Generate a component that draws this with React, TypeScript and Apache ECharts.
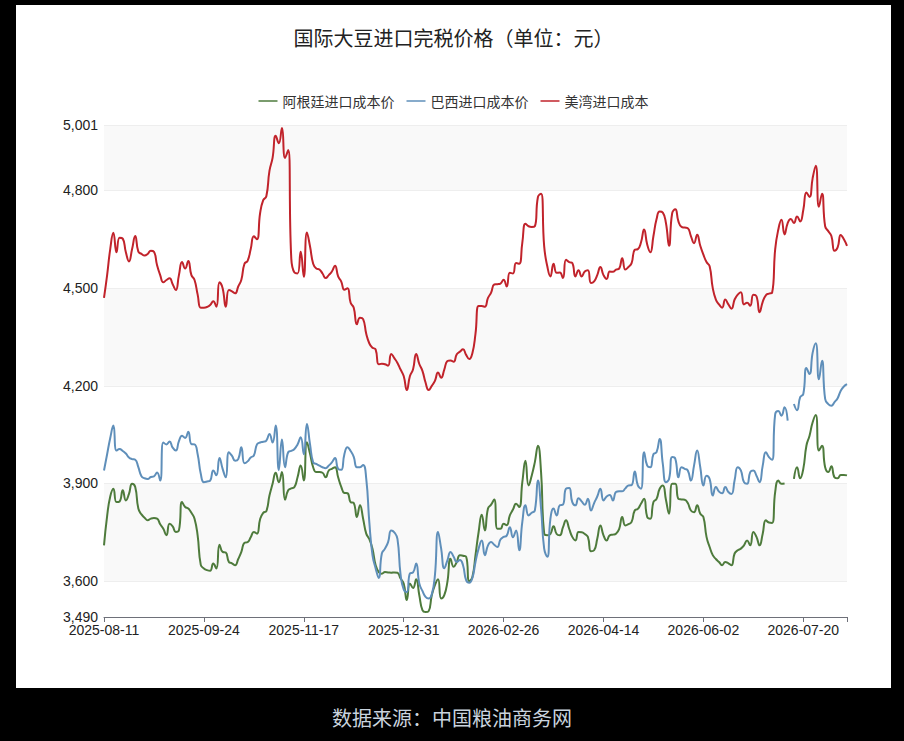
import React, { useEffect, useRef } from 'react';
import * as echarts from 'echarts';

// trading days from 2025-08-11, weekends and market holidays skipped
const startDate = '2025-08-11';
const endDate = '2026-08-07';
const holidays = [
  '2025-10-01', '2025-10-02', '2025-10-03', '2025-10-06', '2025-10-07', '2025-10-08',
  '2026-01-01', '2026-01-02',
  '2026-02-16', '2026-02-17', '2026-02-18', '2026-02-19', '2026-02-20', '2026-02-23', '2026-02-24',
  '2026-04-06',
  '2026-05-01', '2026-05-04', '2026-05-05',
  '2026-06-19', '2026-07-01',
];

function tradingDays(start: string, end: string, skip: string[]): string[] {
  const out: string[] = [];
  const d = new Date(start + 'T00:00:00Z');
  const last = new Date(end + 'T00:00:00Z');
  while (d <= last) {
    const day = d.getUTCDay();
    const s = d.toISOString().slice(0, 10);
    if (day !== 0 && day !== 6 && !skip.includes(s)) out.push(s);
    d.setUTCDate(d.getUTCDate() + 1);
  }
  return out;
}

const dates = tradingDays(startDate, endDate, holidays);

const seriesNames = ['阿根廷进口成本价', '巴西进口成本价', '美湾进口成本'];
const seriesColors = ['#4e7b3c', '#5f8fba', '#c1232b'];

const argentina = [
  3710, 3800, 3860, 3884, 3843, 3845, 3879, 3848, 3868, 3899,
  3889, 3823, 3805, 3795, 3787, 3792, 3794, 3792, 3775, 3761,
  3741, 3776, 3768, 3751, 3756, 3843, 3828, 3823, 3810, 3792,
  3740, 3650, 3639, 3634, 3632, 3654, 3639, 3712, 3690, 3688,
  3659, 3655, 3649, 3668, 3690, 3718, 3720, 3735, 3751, 3746,
  3790, 3810, 3815, 3863, 3899, 3933, 3904, 3935, 3850, 3879,
  3885, 3889, 3919, 3955, 3909, 4027, 3991, 3950, 3935, 3935,
  3933, 3919, 3940, 3945, 3950, 3919, 3890, 3871, 3870, 3843,
  3840, 3797, 3833, 3792, 3746, 3729, 3700, 3650, 3628, 3623,
  3628, 3627, 3626, 3627, 3626, 3608, 3593, 3542, 3593, 3579,
  3606, 3557, 3511, 3505, 3508, 3557, 3588, 3606, 3547, 3557,
  3598, 3669, 3644, 3659, 3680, 3678, 3675, 3600, 3613, 3680,
  3751, 3804, 3756, 3823, 3835, 3851, 3761, 3761, 3776, 3772,
  3802, 3820, 3838, 3828, 3904, 3970, 3894, 3924, 3965, 4016,
  3935, 3746, 3741, 3745, 3769, 3745, 3741, 3765, 3787, 3761,
  3736, 3725, 3751, 3750, 3745, 3736, 3692, 3695, 3730, 3771,
  3741, 3725, 3741, 3743, 3746, 3760, 3797, 3771, 3775, 3782,
  3817, 3822, 3838, 3853, 3797, 3792, 3843, 3853, 3884, 3894,
  3850, 3807, 3899, 3899, 3853, 3851, 3850, 3840, 3817, 3812,
  3833, 3807, 3797, 3736, 3705, 3680, 3668, 3659, 3649, 3659,
  3655, 3649, 3685, 3695, 3700, 3710, 3725, 3710, 3751, 3736,
  3710, 3746, 3787, 3780, 3779, 3874, 3909, 3899, 3900, null,
  null, 3914, 3950, 3916, 3945, 4016, 4047, 4088, 4110, 4001,
  4016, 3950, 3935, 3953, 3919, 3916, 3926, 3926, 3925,
];

const brazil = [
  3940, 3990, 4040, 4078, 4001, 4006, 4000, 3992, 3980, 3975,
  3973, 3950, 3922, 3916, 3914, 3920, 3922, 3934, 3909, 4026,
  4020, 4029, 4010, 4001, 4030, 4047, 4040, 4059, 4021, 4020,
  3990, 3930, 3904, 3906, 3909, 3940, 3925, 3978, 3945, 3919,
  3996, 3985, 3970, 3975, 4011, 3962, 3968, 3980, 3986, 4020,
  4026, 4028, 4032, 4052, 4026, 4078, 3941, 4035, 3950, 3996,
  4000, 4006, 4020, 4042, 3990, 4083, 4020, 3965, 3960, 3955,
  3950, 3947, 3955, 3965, 3978, 3945, 3942, 3990, 4011, 4000,
  3982, 3950, 3950, 3957, 3915, 3780, 3680, 3640, 3610, 3685,
  3700, 3720, 3756, 3750, 3730, 3620, 3575, 3567, 3624, 3627,
  3654, 3593, 3570, 3552, 3547, 3560, 3618, 3751, 3700, 3640,
  3664, 3690, 3675, 3659, 3665, 3649, 3603, 3595, 3610, 3659,
  3700, 3725, 3680, 3710, 3720, 3712, 3705, 3728, 3736, 3740,
  3766, 3735, 3756, 3695, 3782, 3833, 3802, 3810, 3817, 3909,
  3823, 3700, 3675, 3792, 3823, 3802, 3833, 3835, 3884, 3886,
  3843, 3833, 3855, 3845, 3835, 3853, 3817, 3840, 3860, 3884,
  3848, 3860, 3865, 3848, 3874, 3876, 3876, 3885, 3894, 3895,
  3937, 3894, 3884, 3996, 3955, 3950, 3990, 3996, 4037, 3960,
  3904, 3914, 3981, 3976, 3919, 3950, 3945, 3940, 3909, 3955,
  4001, 3950, 3894, 3924, 3914, 3863, 3889, 3875, 3870, 3889,
  3874, 3868, 3910, 3950, 3940, 3904, 3899, 3935, 3940, 3924,
  3904, 3955, 3996, 3981, 3973, 4113, 4123, 4108, 4134, 4093,
  null, 4144, 4125, 4165, 4175, 4255, 4236, 4302, 4331, 4220,
  4277, 4160, 4144, 4139, 4150, 4162, 4185, 4198, 4205,
];

const usGulf = [
  4470, 4540, 4620, 4670, 4610, 4655, 4652, 4610, 4582, 4620,
  4660, 4612, 4605, 4600, 4605, 4615, 4612, 4570, 4540, 4518,
  4525, 4530, 4512, 4494, 4540, 4580, 4560, 4583, 4540, 4525,
  4480, 4440, 4440, 4442, 4448, 4460, 4443, 4518, 4500, 4443,
  4494, 4490, 4484, 4505, 4526, 4575, 4584, 4620, 4659, 4650,
  4730, 4770, 4782, 4860, 4900, 4968, 4945, 4992, 4900, 4924,
  4590, 4548, 4545, 4612, 4535, 4671, 4628, 4575, 4560, 4557,
  4545, 4531, 4540, 4551, 4569, 4536, 4520, 4495, 4500, 4455,
  4440, 4389, 4409, 4405, 4360, 4330, 4317, 4312, 4266, 4268,
  4266, 4262, 4298, 4285, 4270, 4250, 4230, 4187, 4230, 4251,
  4298, 4267, 4246, 4210, 4187, 4200, 4215, 4241, 4225, 4250,
  4276, 4278, 4274, 4297, 4305, 4312, 4295, 4282, 4300, 4360,
  4445, 4445, 4443, 4470, 4486, 4511, 4512, 4514, 4526, 4505,
  4547, 4545, 4577, 4575, 4640, 4698, 4690, 4688, 4690, 4780,
  4790, 4628, 4567, 4536, 4575, 4547, 4548, 4531, 4587, 4580,
  4577, 4536, 4555, 4536, 4551, 4555, 4516, 4521, 4540, 4565,
  4540, 4528, 4551, 4550, 4557, 4560, 4592, 4557, 4565, 4577,
  4618, 4620, 4640, 4680, 4634, 4610, 4660, 4712, 4735, 4732,
  4700, 4630, 4730, 4742, 4705, 4688, 4686, 4684, 4660, 4638,
  4664, 4630, 4603, 4580, 4567, 4500, 4465, 4450, 4440, 4465,
  4450, 4437, 4465, 4480, 4487, 4450, 4455, 4446, 4480, 4475,
  4426, 4458, 4478, 4483, 4486, 4620, 4680, 4710, 4665, 4700,
  4712, 4700, 4720, 4705, 4740, 4794, 4780, 4838, 4876, 4750,
  4790, 4690, 4675, 4660, 4615, 4625, 4663, 4650, 4630,
];

const font = "'Liberation Sans', Arial, 'Noto Sans CJK SC', sans-serif";
const cjkFont = "'Noto Sans CJK SC', sans-serif";

const App: React.FC = () => {
  const chartRef = useRef<HTMLDivElement>(null);

  useEffect(() => {
    if (!chartRef.current) return;
    const chart = echarts.init(chartRef.current, undefined, { renderer: 'svg' });
    const lastIndex = dates.length - 1;

    chart.setOption({
      animation: false,
      textStyle: { fontFamily: font },
      title: {
        text: '国际大豆进口完税价格（单位：元）',
        left: 'center',
        top: 17,
        textStyle: { fontSize: 20, fontWeight: 'normal', color: '#222', fontFamily: cjkFont },
      },
      legend: {
        top: 84,
        left: 'center',
        icon: 'rect',
        itemWidth: 19,
        itemHeight: 1.5,
        itemGap: 12,
        textStyle: { fontSize: 14, color: '#333', fontFamily: cjkFont },
        data: seriesNames,
      },
      grid: { left: 88, right: 44, top: 120, bottom: 71 },
      xAxis: {
        type: 'category',
        boundaryGap: false,
        data: dates,
        axisLine: { lineStyle: { color: '#6E7079' } },
        axisTick: {
          interval: (index: number) => index % 32 === 0 || index === lastIndex,
          lineStyle: { color: '#6E7079' },
        },
        axisLabel: { interval: 31, fontSize: 14, color: '#222', margin: 6 },
      },
      yAxis: {
        type: 'value',
        min: 3490,
        max: 5001,
        axisLine: { show: false },
        axisTick: { show: false },
        axisLabel: {
          fontSize: 14,
          color: '#222',
          margin: 6,
          formatter: (v: number) => v.toLocaleString('en-US'),
        },
        splitLine: { lineStyle: { color: '#eeeeee' } },
        splitArea: { show: true, areaStyle: { color: ['#ffffff', '#f9f9f9'] } },
      },
      series: [argentina, brazil, usGulf].map((values, i) => ({
        name: seriesNames[i],
        type: 'line',
        data: values,
        smooth: true,
        symbol: 'none',
        connectNulls: false,
        color: seriesColors[i],
        lineStyle: { width: 2, color: seriesColors[i] },
      })),
    });

    return () => {
      chart.dispose();
    };
  }, []);

  return (
    <div style={{ position: 'fixed', left: 0, top: 0, width: 904, height: 741, background: '#000' }}>
      <div style={{ position: 'absolute', left: 16, top: 5, width: 875, height: 683, background: '#fff' }}>
        <div ref={chartRef} style={{ width: 875, height: 683 }} />
      </div>
      <div
        style={{
          position: 'absolute',
          left: 0,
          top: 705,
          width: 904,
          height: 26,
          lineHeight: '26px',
          textAlign: 'center',
          fontSize: 20,
          color: '#c9d3de',
          fontFamily: cjkFont,
        }}
      >
        数据来源：中国粮油商务网
      </div>
    </div>
  );
};

export default App;
